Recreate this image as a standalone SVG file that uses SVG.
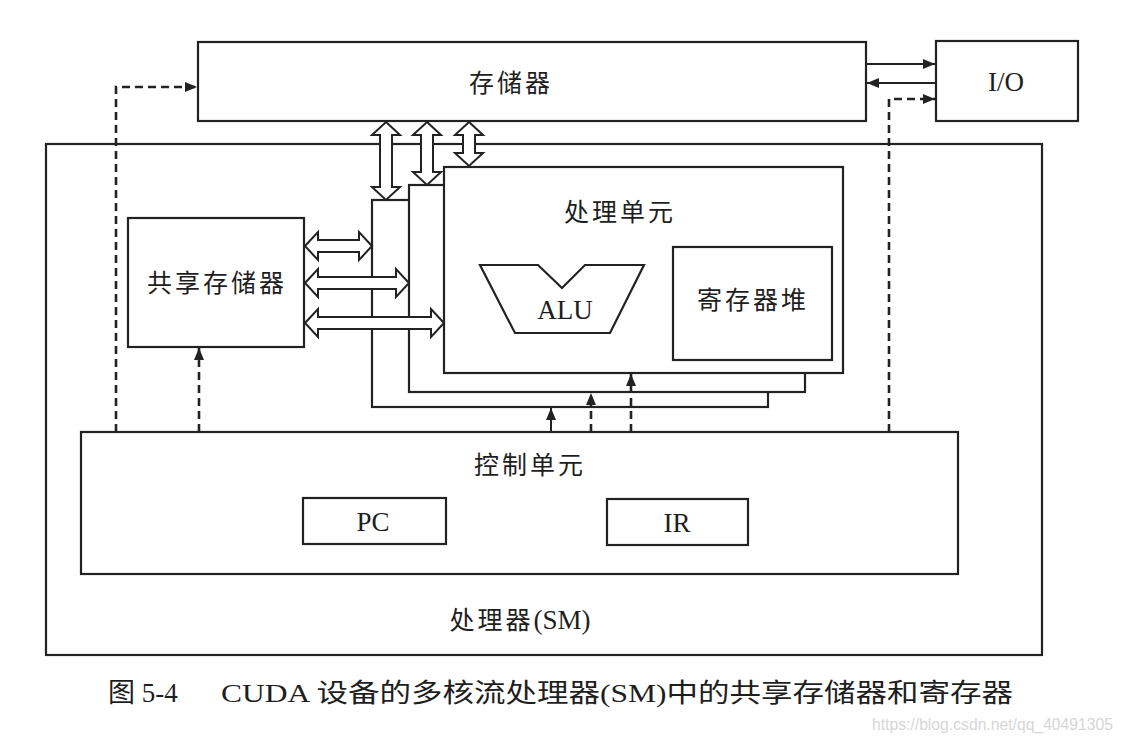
<svg xmlns="http://www.w3.org/2000/svg" width="1124" height="742" viewBox="0 0 1124 742">
<style>
.box{fill:#fff;stroke:#222;stroke-width:2.2}
.ln{fill:none;stroke:#222;stroke-width:2}
.dash{fill:none;stroke:#222;stroke-width:2.6;stroke-dasharray:8 5}
.dbl{fill:#fff;stroke:#222;stroke-width:2;stroke-linejoin:miter}
.t{font-family:'Liberation Serif','Noto Sans CJK SC',serif;fill:#1e1e1e;text-anchor:middle;dominant-baseline:central}
.cn{font-size:25px;letter-spacing:3px}
.en{font-size:27px}
.cap{font-family:'Liberation Serif','Noto Sans CJK SC',serif;fill:#1e1e1e;font-size:26px}
.wm{font-family:'Liberation Sans',Arial,sans-serif;fill:#d6d6d6;font-size:16px}
</style>
<defs>
<marker id="ah" markerUnits="userSpaceOnUse" markerWidth="13" markerHeight="11" refX="12" refY="5" orient="auto">
<path d="M0,0 L12,5 L0,10 z" fill="#222"/>
</marker>
</defs>
<rect width="1124" height="742" fill="#fff"/>

<g id="sm">
<rect class="box" x="46" y="144" width="996" height="511"/>
<text class="t cn" x="520" y="620">处理器<tspan style="letter-spacing:0;font-size:27px">(SM)</tspan></text>
</g>

<g id="memory">
<rect class="box" x="198" y="42" width="668" height="79"/>
<text class="t cn" x="511" y="83">存储器</text>
</g>

<g id="io">
<rect class="box" x="936" y="41" width="142" height="80"/>
<text class="t en" x="1006" y="82">I/O</text>
</g>

<g id="shared-memory">
<rect class="box" x="128" y="218" width="176" height="129"/>
<text class="t cn" x="217" y="283">共享存储器</text>
</g>

<g id="pe-back">
<rect class="box" x="372" y="200" width="396" height="207"/>
</g>
<g id="pe-middle">
<rect class="box" x="409" y="185" width="396" height="207"/>
</g>
<g id="pe-front">
<rect class="box" x="444" y="167" width="399" height="206"/>
<text class="t cn" x="620" y="212">处理单元</text>
</g>

<g id="alu">
<polygon class="box" points="480,265 538,265 562,288 585,265 644,265 610,333 515,333"/>
<text class="t en" x="565" y="310" style="font-size:27px">ALU</text>
</g>

<g id="register-file">
<rect class="box" x="673" y="247" width="159" height="113"/>
<text class="t cn" x="753" y="300">寄存器堆</text>
</g>

<g id="control-unit">
<rect class="box" x="81" y="432" width="877" height="142"/>
<text class="t cn" x="530" y="465">控制单元</text>
</g>

<g id="pc">
<rect class="box" x="303" y="498" width="143" height="46"/>
<text class="t en" x="373" y="522">PC</text>
</g>

<g id="ir">
<rect class="box" x="607" y="499" width="141" height="46"/>
<text class="t en" x="677" y="523">IR</text>
</g>

<g id="connectors">
<line class="ln" x1="866" y1="64" x2="935" y2="64" stroke-width="1.6" marker-end="url(#ah)"/>
<line class="ln" x1="936" y1="83" x2="867" y2="83" stroke-width="3" marker-end="url(#ah)"/>
<path class="dash" d="M889,432 V99 H935" marker-end="url(#ah)"/>
<path class="dash" d="M116,432 V87 H197" marker-end="url(#ah)"/>
<path class="dash" d="M199,432 V348" marker-end="url(#ah)"/>
<path class="ln" d="M551,432 V408" stroke-width="2.4" marker-end="url(#ah)"/>
<path class="dash" d="M591,432 V393" marker-end="url(#ah)"/>
<path class="dash" d="M631,432 V374" marker-end="url(#ah)"/>
<polygon class="dbl" points="386,122 400,135 392,135 392,187 400,187 386,200 372,187 380,187 380,135 372,135"/>
<polygon class="dbl" points="427,122 441,135 433,135 433,172 441,172 427,185 413,172 421,172 421,135 413,135"/>
<polygon class="dbl" points="469,122 483,135 475,135 475,153 483,153 469,166 455,153 463,153 463,135 455,135"/>
<polygon class="dbl" points="305,246 318,232 318,240 359,240 359,232 372,246 359,260 359,252 318,252 318,260"/>
<polygon class="dbl" points="305,283 318,269 318,277 396,277 396,269 409,283 396,297 396,289 318,289 318,297"/>
<polygon class="dbl" points="305,323 318,309 318,317 431,317 431,309 444,323 431,337 431,329 318,329 318,337"/>
</g>

<g id="caption">
<text class="cap" x="108" y="702" style="font-size:27px">图 5-4</text>
<text class="cap" x="221" y="702" textLength="792" lengthAdjust="spacingAndGlyphs">CUDA 设备的多核流处理器(SM)中的共享存储器和寄存器</text>
<text class="wm" x="872" y="730" textLength="241" lengthAdjust="spacingAndGlyphs">https://blog.csdn.net/qq_40491305</text>
</g>
</svg>
